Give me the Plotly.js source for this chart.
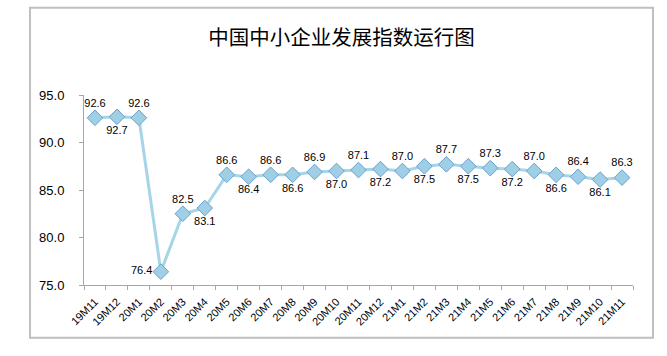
<!DOCTYPE html>
<html>
<head>
<meta charset="utf-8">
<script src="https://cdn.plot.ly/plotly-3.0.1.min.js"></script>
<style>html,body{margin:0;padding:0;background:#fff;}#chart{width:667px;height:356px;}</style>
</head>
<body>
<div id="chart"></div>
<script>
const titleText = "中国中小企业发展指数运行图";
const categories = ["19M11","19M12","20M1","20M2","20M3","20M4","20M5","20M6","20M7","20M8","20M9","20M10","20M11","20M12","21M1","21M2","21M3","21M4","21M5","21M6","21M7","21M8","21M9","21M10","21M11"];
const values = [92.6,92.7,92.6,76.4,82.5,83.1,86.6,86.4,86.6,86.6,86.9,87.0,87.1,87.2,87.0,87.5,87.7,87.5,87.3,87.2,87.0,86.6,86.4,86.1,86.3];
const labelPos = ["top center","bottom center","top center","middle left","top center","bottom center","top center","bottom center","top center","bottom center","top center","bottom center","top center","bottom center","top center","bottom center","top center","bottom center","top center","bottom center","top center","bottom center","top center","bottom center","top center"];
const yTicks = [75,80,85,90,95];

const fontFam = "Liberation Sans, Arial, sans-serif";
const trace = {
  x: categories,
  y: values,
  type: "scatter",
  mode: "lines+markers+text",
  text: values.map(v => v.toFixed(1)),
  textposition: labelPos,
  textfont: {family: fontFam, size: 11, color: "#000"},
  line: {color: "#a5d5e6", width: 3},
  marker: {symbol: "diamond", size: 12, color: "#9fcfe4", line: {color: "#6a9fd2", width: 1}},
  cliponaxis: false,
  hoverinfo: "x+y"
};

const layout = {
  width: 667, height: 356,
  margin: {l: 84, r: 34, t: 94.5, b: 71},
  paper_bgcolor: "#fff", plot_bgcolor: "#fff",
  showlegend: false,
  title: {text: titleText, font: {family: "Noto Sans CJK SC, sans-serif", size: 20.5, color: "#000"}, x: 0.512, xanchor: "center", y: 0.895, yanchor: "middle"},
  xaxis: {
    type: "category",
    range: [-0.5, 24.5],
    tickangle: -45,
    tickson: "boundaries",
    ticks: "outside", ticklen: 4, tickcolor: "#a6a6a6",
    showline: true, linecolor: "#a6a6a6", linewidth: 1,
    showgrid: false, zeroline: false,
    ticklabelstandoff: 5,
    tickfont: {family: fontFam, size: 11, color: "#000"}
  },
  yaxis: {
    range: [75, 95],
    tickvals: yTicks,
    ticktext: yTicks.map(v => v.toFixed(1)),
    ticks: "outside", ticklen: 4, tickcolor: "#a6a6a6",
    showline: true, linecolor: "#a6a6a6", linewidth: 1,
    showgrid: false, zeroline: false,
    ticklabelstandoff: 12,
    tickfont: {family: fontFam, size: 13, color: "#000"}
  },
  shapes: [{
    type: "rect", xref: "paper", yref: "paper",
    x0: -0.0984, x1: 1.0364, y0: -0.278, y1: 1.459,
    line: {color: "#bfbfbf", width: 2}, fillcolor: "rgba(0,0,0,0)", layer: "below"
  }]
};

Plotly.newPlot("chart", [trace], layout, {displayModeBar: false, staticPlot: true});
</script>
</body>
</html>
